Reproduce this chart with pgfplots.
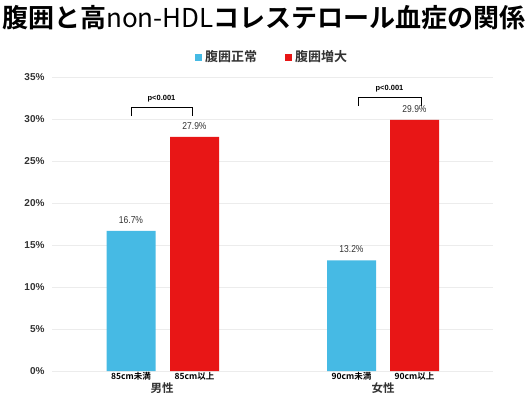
\documentclass[border=0pt]{standalone}
\usepackage{pgfplots}
\pgfplotsset{compat=1.18}
\usepackage{fontspec}
\setmainfont{Liberation Sans}
\newfontfamily\jp{Noto Sans CJK JP}
\newfontfamily\jpb{Noto Sans CJK JP Bold}
\newfontfamily\narrow[FakeStretch=0.85]{Liberation Sans}
\definecolor{cyanbar}{RGB}{70,186,228}
\definecolor{redbar}{RGB}{232,22,22}
\definecolor{txt}{RGB}{50,50,50}
\begin{document}
\begin{tikzpicture}[x=1pt,y=1pt]
\path[use as bounding box] (0,0) rectangle (531,393);
\node[font=\jpb\fontsize{26}{26}\selectfont, anchor=center, inner sep=0pt] at (264,375) {腹囲と高{\jp non-HDL}コレステロール血症の関係};
% legend
\fill[cyanbar] (195,332) rectangle (202,339);
\node[font=\jpb\fontsize{13}{13}\selectfont, text=txt, anchor=west, inner sep=0pt] at (205,336) {腹囲正常};
\fill[redbar] (285,332) rectangle (292,339);
\node[font=\jpb\fontsize{13}{13}\selectfont, text=txt, anchor=west, inner sep=0pt] at (295,336) {腹囲増大};
\begin{axis}[
  at={(52,26)}, anchor=origin,
  scale only axis, width=441pt, height=294pt,
  xmin=52, xmax=493, ymin=0, ymax=35,
  axis line style={draw=none},
  axis x line*=bottom,
  ytick={0,5,...,35},
  yticklabel={\pgfmathprintnumber{\tick}\%},
  /pgf/number format/assume math mode=true,
  yticklabel style={font=\bfseries\fontsize{10}{10}\selectfont, text=txt, xshift=-4pt},
  ymajorgrids, grid style={gray!15, line width=0.6pt},
  major tick length=0pt,
  xtick={131,194.5,351.5,414.5},
  xticklabels={85cm未満,85cm以上,90cm未満,90cm以上},
  xticklabel style={font=\jpb\fontsize{8.5}{8.5}\selectfont, text=black, yshift=2pt},
  clip=false,
  bar width=49pt,
  nodes near coords,
  nodes near coords style={font=\narrow\fontsize{10}{10}\selectfont, text=txt, yshift=4pt},
  point meta=explicit symbolic,
]
\addplot[ybar, fill=cyanbar, draw=none] coordinates {(131,16.7) [16.7\%] (351.5,13.2) [13.2\%]};
\addplot[ybar, fill=redbar, draw=none] coordinates {(194.5,27.9) [27.9\%] (414.5,29.9) [29.9\%]};
\draw[black, line width=0.5pt] (axis cs:131,30.36) -- (axis cs:131,31.43) -- (axis cs:192,31.43) -- (axis cs:192,30.36);
\node[font=\bfseries\fontsize{7.5}{7.5}\selectfont, anchor=south] at (axis cs:161.5,31.6) {p<0.001};
\draw[black, line width=0.5pt] (axis cs:358,31.55) -- (axis cs:358,32.62) -- (axis cs:421,32.62) -- (axis cs:421,31.55);
\node[font=\bfseries\fontsize{7.5}{7.5}\selectfont, anchor=south] at (axis cs:389.5,32.8) {p<0.001};
\node[font=\jpb\fontsize{11.5}{11.5}\selectfont, text=txt, inner sep=0pt] at (axis cs:162,-2.05) {男性};
\node[font=\jpb\fontsize{11.5}{11.5}\selectfont, text=txt, inner sep=0pt] at (axis cs:383,-2.05) {女性};
\end{axis}
\end{tikzpicture}
\end{document}
